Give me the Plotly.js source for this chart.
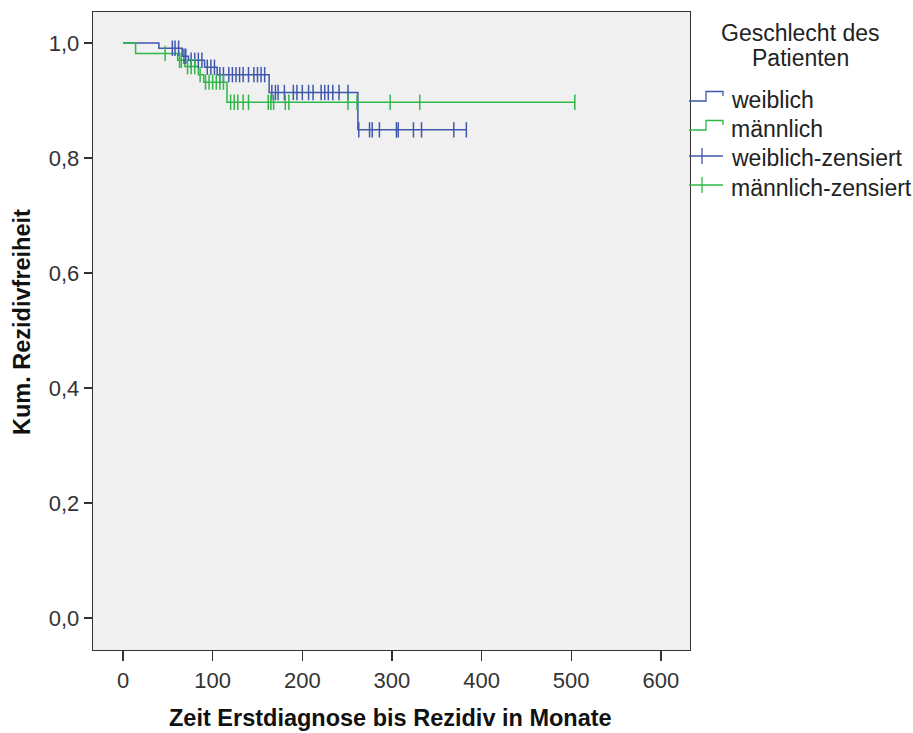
<!DOCTYPE html>
<html>
<head>
<meta charset="utf-8">
<script src="https://cdn.plot.ly/plotly-3.0.1.min.js"></script>
<style>
  html, body { margin: 0; padding: 0; background: #ffffff; }
  #chart { width: 913px; height: 733px; }
</style>
</head>
<body>
<div id="chart"></div>
<script>
// ---- Data ----
const groupNames = ["weiblich", "männlich"];
const censorNames = ["weiblich-zensiert", "männlich-zensiert"];

// Kaplan-Meier step curves (time in months, cumulative recurrence-free survival)
const weiblichTimes = [0, 40, 66, 73, 91, 105, 163, 262, 383];
const weiblichSurv  = [1.0, 0.991, 0.977, 0.970, 0.958, 0.945, 0.914, 0.849, 0.849];

const maennlichTimes = [0, 14, 61, 69, 84, 90, 116, 504];
const maennlichSurv  = [1.0, 0.982, 0.970, 0.959, 0.945, 0.932, 0.897, 0.897];

// Censored observations
const weiblichCensTimes = [55, 58, 62, 68, 70, 76, 80, 84, 88, 94, 98, 102,
  108, 112, 118, 122, 126, 130, 134, 140, 146, 150, 154, 158,
  166, 170, 173, 180, 190, 194, 200, 207, 212, 221, 225, 229, 234, 241, 251,
  263, 275, 278, 286, 305, 307, 324, 333, 369, 383];
const weiblichCensSurv = [0.991, 0.991, 0.991, 0.977, 0.977, 0.970, 0.970, 0.970, 0.970,
  0.958, 0.958, 0.958,
  0.945, 0.945, 0.945, 0.945, 0.945, 0.945, 0.945, 0.945, 0.945, 0.945, 0.945, 0.945,
  0.914, 0.914, 0.914, 0.914, 0.914, 0.914, 0.914, 0.914, 0.914, 0.914, 0.914, 0.914, 0.914, 0.914, 0.914,
  0.849, 0.849, 0.849, 0.849, 0.849, 0.849, 0.849, 0.849, 0.849, 0.849];

const maennlichCensTimes = [47, 63, 65, 72, 76, 80, 86, 92, 96, 100, 104, 108, 112,
  120, 124, 128, 134, 140, 162, 165, 168, 181, 185, 251, 261, 298, 331, 504];
const maennlichCensSurv = [0.982, 0.970, 0.970, 0.959, 0.959, 0.959, 0.945,
  0.932, 0.932, 0.932, 0.932, 0.932, 0.932,
  0.897, 0.897, 0.897, 0.897, 0.897, 0.897, 0.897, 0.897, 0.897, 0.897, 0.897, 0.897, 0.897, 0.897, 0.897];

const xTickVals = [0, 100, 200, 300, 400, 500, 600];
const yTickVals = [0.0, 0.2, 0.4, 0.6, 0.8, 1.0];

const legendTitleLines = ["Geschlecht des", "Patienten"];
const xTitle = "Zeit Erstdiagnose bis Rezidiv in Monate";
const yTitle = "Kum. Rezidivfreiheit";

// ---- Styling ----
const BLUE = "#3e58ac";
const GREEN = "#2eb848";
const FONT = "Liberation Sans, Arial, sans-serif";

// plot area in pixels
const M = { l: 93, r: 223, t: 12, b: 83 };
const W = 913, H = 733;
const PW = W - M.l - M.r, PH = H - M.t - M.b;
const px = x => (x - M.l) / PW;
const py = y => (H - M.b - y) / PH;

const traces = [
  { x: weiblichTimes, y: weiblichSurv, mode: "lines", line: { shape: "hv", color: BLUE, width: 1.5 },
    name: groupNames[0], showlegend: false },
  { x: maennlichTimes, y: maennlichSurv, mode: "lines", line: { shape: "hv", color: GREEN, width: 1.5 },
    name: groupNames[1], showlegend: false },
  { x: weiblichCensTimes, y: weiblichCensSurv, mode: "markers", name: censorNames[0], showlegend: false,
    marker: { symbol: "line-ns", size: 11, color: BLUE, line: { color: BLUE, width: 1.5 } }, cliponaxis: false },
  { x: maennlichCensTimes, y: maennlichCensSurv, mode: "markers", name: censorNames[1], showlegend: false,
    marker: { symbol: "line-ns", size: 11, color: GREEN, line: { color: GREEN, width: 1.5 } }, cliponaxis: false }
];

// Legend drawn by hand (step glyphs and censor crosses)
function pathPx(points) {
  return points.map((p, i) => (i === 0 ? "M" : "L") + px(p[0]).toFixed(5) + "," + py(p[1]).toFixed(5)).join(" ");
}
const shapes = [
  { type: "path", xref: "paper", yref: "paper",
    path: pathPx([[689, 101], [706, 101], [706, 91.5], [723, 91.5], [723, 96]]),
    line: { color: BLUE, width: 1.3 } },
  { type: "path", xref: "paper", yref: "paper",
    path: pathPx([[689, 130], [706, 130], [706, 120.5], [723, 120.5], [723, 125]]),
    line: { color: GREEN, width: 1.3 } },
  { type: "path", xref: "paper", yref: "paper",
    path: pathPx([[689, 156], [723, 156]]), line: { color: BLUE, width: 1.3 } },
  { type: "path", xref: "paper", yref: "paper",
    path: pathPx([[702, 148], [702, 164]]), line: { color: BLUE, width: 1.3 } },
  { type: "path", xref: "paper", yref: "paper",
    path: pathPx([[689, 185], [723, 185]]), line: { color: GREEN, width: 1.3 } },
  { type: "path", xref: "paper", yref: "paper",
    path: pathPx([[702, 177], [702, 193]]), line: { color: GREEN, width: 1.3 } }
];

const legendFont = { family: FONT, size: 23, color: "#222222" };
const titleFont = { family: FONT, size: 23.5, color: "#111111", weight: "bold" };
const annotations = [
  { xref: "paper", yref: "paper", x: px(800), y: py(33), xanchor: "center", yanchor: "middle",
    text: legendTitleLines[0], showarrow: false, font: legendFont },
  { xref: "paper", yref: "paper", x: px(800), y: py(58), xanchor: "center", yanchor: "middle",
    text: legendTitleLines[1], showarrow: false, font: legendFont },
  { xref: "paper", yref: "paper", x: px(729), y: py(100), xanchor: "left", yanchor: "middle",
    text: groupNames[0], showarrow: false, font: legendFont },
  { xref: "paper", yref: "paper", x: px(729), y: py(129), xanchor: "left", yanchor: "middle",
    text: groupNames[1], showarrow: false, font: legendFont },
  { xref: "paper", yref: "paper", x: px(729), y: py(158), xanchor: "left", yanchor: "middle",
    text: censorNames[0], showarrow: false, font: legendFont },
  { xref: "paper", yref: "paper", x: px(729), y: py(188), xanchor: "left", yanchor: "middle",
    text: censorNames[1], showarrow: false, font: legendFont },
  // axis titles
  { xref: "paper", yref: "paper", x: px(390), y: py(718), xanchor: "center", yanchor: "middle",
    text: xTitle, showarrow: false, font: titleFont },
  { xref: "paper", yref: "paper", x: px(22), y: py(322), xanchor: "center", yanchor: "middle",
    text: yTitle, textangle: -90, showarrow: false, font: titleFont }
];

const layout = {
  width: W, height: H,
  margin: M,
  paper_bgcolor: "#ffffff",
  plot_bgcolor: "#f0f0f0",
  separators: ",.",
  font: { family: FONT, size: 22, color: "#333333" },
  showlegend: false,
  xaxis: {
    range: [-33.5, 632.5],
    tickvals: xTickVals,
    ticks: "outside", ticklen: 10, tickwidth: 1.3, tickcolor: "#333333",
    showgrid: false, zeroline: false,
    showline: true, mirror: true, linecolor: "#333333", linewidth: 1.3,
    tickfont: { family: FONT, size: 22, color: "#333333" }
  },
  yaxis: {
    range: [-0.0557, 1.054],
    tickvals: yTickVals,
    tickformat: ".1f",
    ticks: "outside", ticklen: 8, tickwidth: 1.3, tickcolor: "#333333",
    showgrid: false, zeroline: false,
    showline: true, mirror: true, linecolor: "#333333", linewidth: 1.3,
    tickfont: { family: FONT, size: 22, color: "#333333" }
  },
  shapes: shapes,
  annotations: annotations
};

Plotly.newPlot("chart", traces, layout, { staticPlot: true, displayModeBar: false });
</script>
</body>
</html>
